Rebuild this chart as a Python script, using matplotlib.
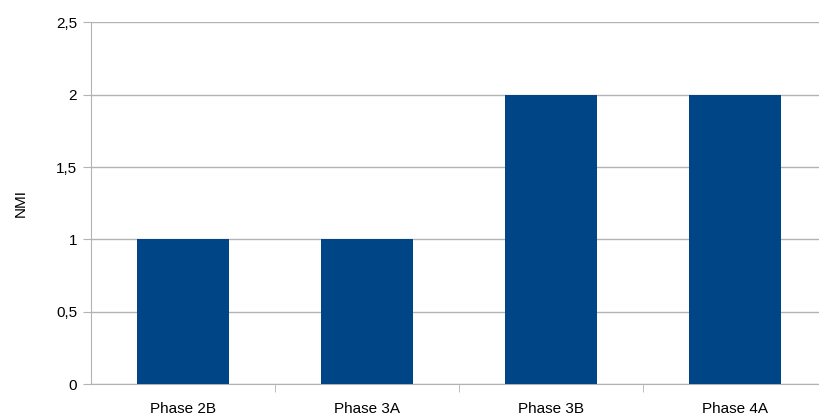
import numpy as np
import matplotlib.pyplot as plt
from matplotlib.ticker import FuncFormatter

phases = ['Phase 2B', 'Phase 3A', 'Phase 3B', 'Phase 4A']
nmi = [1, 1, 2, 2]
yticks = [0, 0.5, 1, 1.5, 2, 2.5]

plt.rcParams['font.family'] = ['Liberation Sans', 'DejaVu Sans']

fig = plt.figure(figsize=(8.19, 4.19), dpi=100)
ax = fig.add_axes([91 / 819, 35 / 419, 728 / 819, 361.5 / 419])

x = np.arange(len(phases))
ax.bar(x, nmi, width=0.5, color='#004586', zorder=3)

ax.set_ylim(0, 2.5)
ax.set_xlim(-0.5, -0.5 + 728 / 184)
ax.set_yticks(yticks)
ax.yaxis.set_major_formatter(FuncFormatter(lambda v, p: f'{v:g}'.replace('.', ',')))
ax.grid(axis='y', color='#b3b3b3', linewidth=1, zorder=0)

ax.set_xticks(x)
ax.set_xticklabels(phases)
ax.set_xticks(np.arange(0.5, len(phases) - 0.5), minor=True)
ax.tick_params(axis='x', which='major', length=0, labelsize=11, pad=13, colors='#000000')
ax.tick_params(axis='x', which='minor', length=6, color='#b3b3b3')
ax.tick_params(axis='y', length=6, color='#b3b3b3', labelsize=11, pad=4)

for s in ['top', 'right']:
    ax.spines[s].set_visible(False)
for s in ['left', 'bottom']:
    ax.spines[s].set_color('#b3b3b3')

ax.set_ylabel('NMI', fontsize=11, labelpad=20)

fig.savefig('out.png', dpi=100)
